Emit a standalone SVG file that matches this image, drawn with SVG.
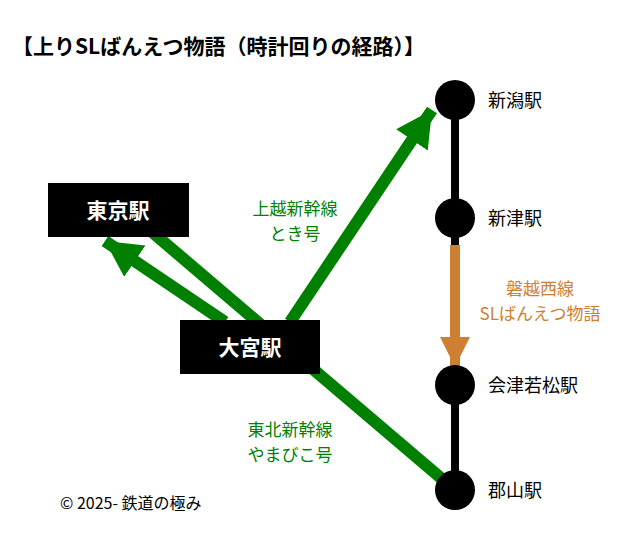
<svg xmlns="http://www.w3.org/2000/svg" width="640" height="556" viewBox="0 0 640 556">
<style>
text{font-family:"Noto Sans CJK JP","Noto Sans",sans-serif}
.g{stroke:#008000;stroke-width:12;fill:none}
.gt{fill:#008000;font-size:17px;text-anchor:middle}
.st{font-size:18px;fill:#000}
.box{fill:#000}
.bt{fill:#fff;font-size:21px;font-weight:bold;text-anchor:middle}
</style>
<defs>
<marker id="ga" markerUnits="userSpaceOnUse" markerWidth="44" markerHeight="44" refX="36" refY="19" orient="auto"><path d="M0,0 L36,19 L0,38 Z" fill="#008000"/></marker>
<marker id="oa" markerUnits="userSpaceOnUse" markerWidth="40" markerHeight="40" refX="30" refY="15" orient="auto"><path d="M0,0 L30,15 L0,30 Z" fill="#cd7f32"/></marker>
</defs>
<rect width="640" height="556" fill="#fff"/>
<text x="12" y="54" font-size="21" font-weight="bold">【上りSLばんえつ物語（時計回りの経路）】</text>
<g id="connectors">
<line x1="455" y1="100" x2="455" y2="490" stroke="#000" stroke-width="8"/>
<line x1="455" y1="490" x2="152" y2="232" class="g"/>
<line x1="225" y1="322" x2="105" y2="241" class="g" marker-end="url(#ga)"/>
<line x1="290" y1="322" x2="432" y2="110" class="g" marker-end="url(#ga)"/>
<line x1="455" y1="245" x2="455" y2="367" stroke="#cd7f32" stroke-width="10" marker-end="url(#oa)"/>
</g>
<g id="tokyo"><rect class="box" x="48" y="183" width="141" height="54"/><text class="bt" x="118" y="218">東京駅</text></g>
<g id="omiya"><rect class="box" x="180" y="320" width="140" height="54"/><text class="bt" x="250" y="355">大宮駅</text></g>
<g id="niigata"><circle cx="455" cy="100" r="20"/><text class="st" x="488" y="107">新潟駅</text></g>
<g id="niitsu"><circle cx="455" cy="218" r="20"/><text class="st" x="488" y="225">新津駅</text></g>
<g id="aizu"><circle cx="455" cy="385" r="20"/><text class="st" x="488" y="392">会津若松駅</text></g>
<g id="koriyama"><circle cx="455" cy="490" r="20"/><text class="st" x="488" y="497">郡山駅</text></g>
<g id="labels">
<text class="gt" x="295" y="215">上越新幹線</text>
<text class="gt" x="295" y="240">とき号</text>
<text class="gt" x="290" y="436">東北新幹線</text>
<text class="gt" x="290" y="461">やまびこ号</text>
<text x="540" y="295" font-size="17" fill="#cd7f32" text-anchor="middle">磐越西線</text>
<text x="540" y="320" font-size="17" fill="#cd7f32" text-anchor="middle">SLばんえつ物語</text>
<text x="60" y="509" font-size="16">© 2025- 鉄道の極み</text>
</g>
</svg>
